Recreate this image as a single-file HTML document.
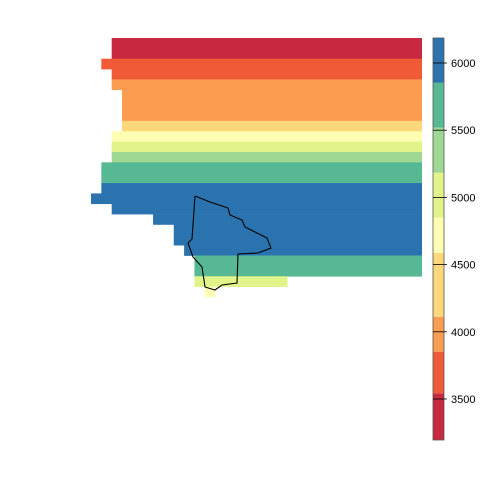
<!DOCTYPE html>
<html><head><meta charset="utf-8"><style>body{margin:0;background:#fff}svg{display:block}</style></head>
<body>
<svg id="chart" width="480" height="480" xmlns="http://www.w3.org/2000/svg" font-family="Liberation Sans, sans-serif">
<g id="cells"></g>
<polyline id="outline" fill="none" stroke="#000" stroke-width="1.1"></polyline>
<g id="legend"></g>
</svg>
<script>
// raster rows: value, first column, end column (exclusive)
const rowValues = [3300,3300,3650,3650,3950,3950,3950,3950,4300,4700,5000,5350,5700,5700,6000,6000,6000,6000,6000,6000,6000,5700,5700,5000,4700];
const rowStartCol = [2,2,1,2,2,3,3,3,3,2,2,2,1,1,1,0,2,6,8,8,9,10,10,10,11];
const rowEndCol = [32,32,32,32,32,32,32,32,32,32,32,32,32,32,32,32,32,32,32,32,32,32,32,19,12];
const breaks = [3195,3542,3852,4112,4588,4849,5184,5519,5853,6186];
const colors = ['#C92841','#F05A37','#FA9D50','#FDD77A','#FEFEB2','#E2F38A','#9FD893','#56B993','#2A73AE'];
const tickValues = [3500,4000,4500,5000,5500,6000];
const outlineX = [195,210,228,230,242,245,257,267,271,258,238,237,222,215,205,202,193,188,192,195];
const outlineY = [196,202,208,215,220,227,233,238,248,253,254,283,285,290,287,267,257,243,239,196];

const NS='http://www.w3.org/2000/svg';
const x0=91, cw=(422-91)/32, y0=38, rh=(297-38)/25;
const colX=c=>x0+c*cw, rowY=r=>y0+r*rh;
function colorOf(v){for(let i=0;i<colors.length;i++){if(v<breaks[i+1])return colors[i];}return colors[colors.length-1];}
const cells=document.getElementById('cells');
rowValues.forEach((v,r)=>{
  const el=document.createElementNS(NS,'rect');
  
  
  el.setAttribute('x',colX(rowStartCol[r]));
  el.setAttribute('y',rowY(r));
  el.setAttribute('width',colX(rowEndCol[r])-colX(rowStartCol[r]));
  el.setAttribute('height',rh+0.3);
  el.setAttribute('fill',colorOf(v));
  cells.appendChild(el);
});
document.getElementById('outline').setAttribute('points',outlineX.map((x,i)=>x+','+outlineY[i]).join(' '));
// legend
const lg=document.getElementById('legend');
const ly=v=>63+(6000-v)*67.2/500;
const lx=433, lw=11;
colors.forEach((c,i)=>{
  const el=document.createElementNS(NS,'rect');
  
  
  el.setAttribute('x',lx);el.setAttribute('y',ly(breaks[i+1]));
  el.setAttribute('width',lw);el.setAttribute('height',ly(breaks[i])-ly(breaks[i+1]));
  el.setAttribute('fill',c);lg.appendChild(el);
});
const fr=document.createElementNS(NS,'rect');


fr.setAttribute('x',lx);fr.setAttribute('y',ly(breaks[breaks.length-1]));
fr.setAttribute('width',lw);fr.setAttribute('height',ly(breaks[0])-ly(breaks[breaks.length-1]));
fr.setAttribute('fill','none');fr.setAttribute('stroke','#555');fr.setAttribute('stroke-width','0.8');lg.appendChild(fr);
tickValues.forEach(t=>{
  const y=ly(t);
  const ln=document.createElementNS(NS,'line');
  
  
  ln.setAttribute('x1',lx);ln.setAttribute('x2',lx+lw+3);ln.setAttribute('y1',y);ln.setAttribute('y2',y);
  ln.setAttribute('stroke','#000');ln.setAttribute('stroke-width','0.8');lg.appendChild(ln);
  const tx=document.createElementNS(NS,'text');
  
  
  tx.setAttribute('x',451);tx.setAttribute('y',y+4);tx.setAttribute('font-size','11');
  tx.textContent=t;lg.appendChild(tx);
});
</script>
</body></html>
